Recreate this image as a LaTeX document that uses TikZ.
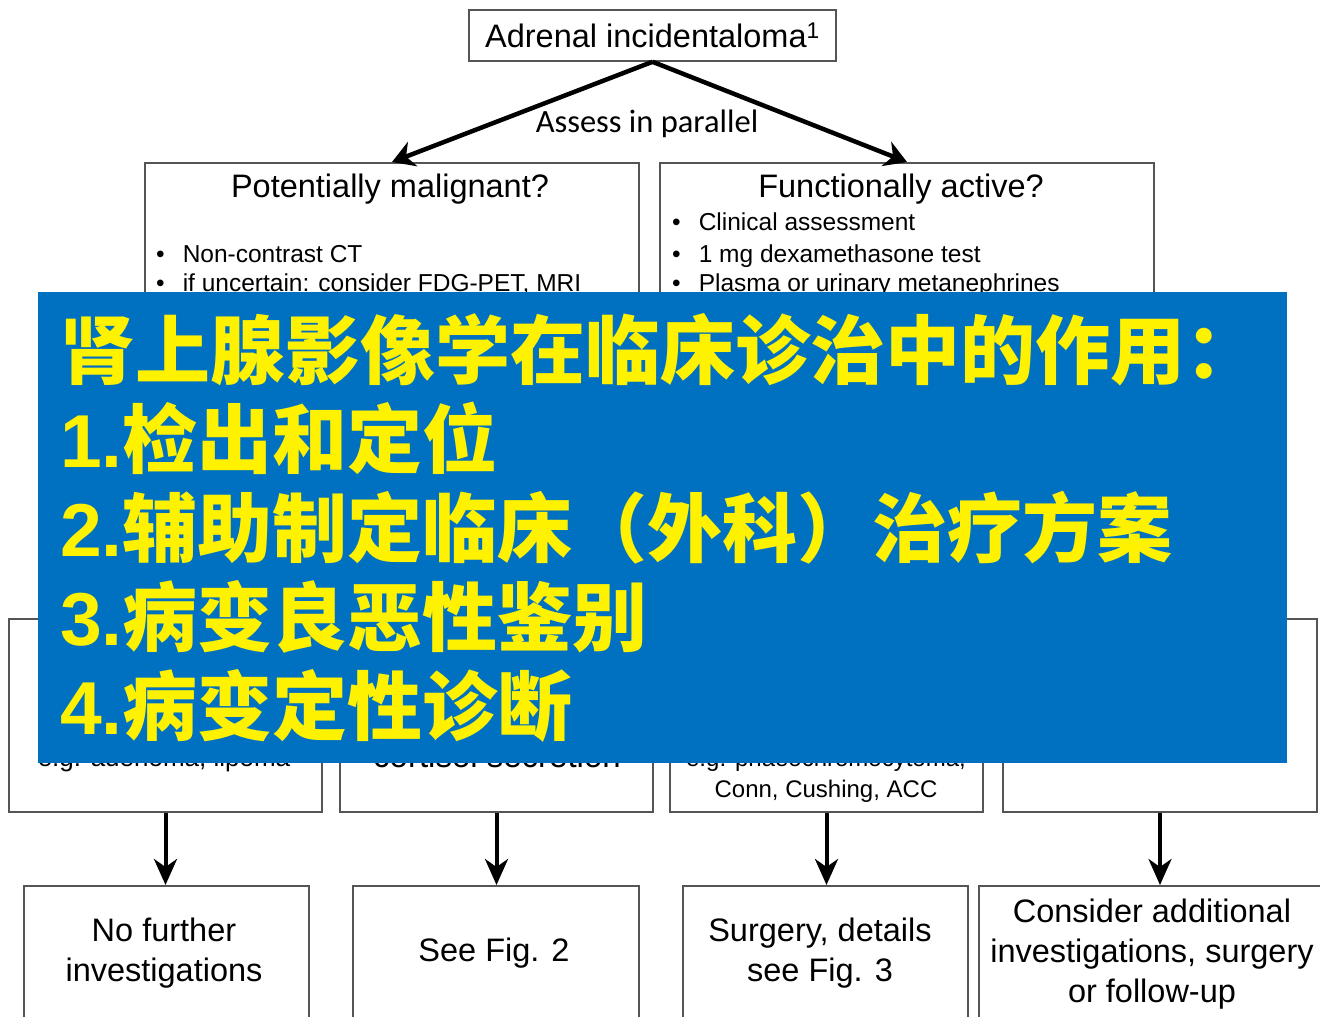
\documentclass[tikz,border=0pt]{standalone}
\usepackage{fontspec}
\setmainfont{Liberation Sans}
\newfontfamily\calibri{Carlito}
\newfontfamily\cjk{Noto Sans CJK SC}
\usetikzlibrary{arrows.meta}
\definecolor{slideblue}{RGB}{0,112,192}
\definecolor{boxgray}{RGB}{85,85,85}
\newcommand\stepno[1]{{\rmfamily\bfseries #1}}
\begin{document}
\begin{tikzpicture}[x=1pt,y=-1pt,
	box/.style={draw=boxgray,line width=1.6pt,fill=white,inner sep=0pt},
	fork/.style={line width=4.5pt,-{Stealth[length=22pt,width=26pt,inset=7pt]}},
	down/.style={line width=4pt,-{Stealth[length=26pt,width=23pt,inset=8pt]}},
	item/.style={anchor=base west,inner sep=0pt,font=\fontsize{24.5}{28}\selectfont},
	note/.style={anchor=base,inner sep=0pt,font=\fontsize{#1}{#1}\selectfont},
	result/.style={align=center,inner sep=0pt,font=\fontsize{32.5}{40}\selectfont},
	point/.style={anchor=base west,inner sep=0pt,text=yellow,font=\cjk\bfseries\fontsize{75}{80}\selectfont}]
\clip (0,0) rectangle (1320,1017);
\fill[white] (0,0) rectangle (1320,1017);

\node[box,minimum width=367pt,minimum height=51pt,font=\fontsize{32.5}{36}\selectfont] (incid) at (652.5,35.5) {Adrenal incidentaloma\textsuperscript{1}};
\node[box,minimum width=494pt,minimum height=440pt,anchor=north] (malig) at (392,162) {};
\node[box,minimum width=494pt,minimum height=440pt,anchor=north] (funct) at (907,162) {};
\draw[fork] (incid.south) -- (malig.north);
\draw[fork] (incid.south) -- (funct.north);
\node[font=\calibri\fontsize{32.5}{36}\selectfont] (parallel) at (647,124) {Assess in parallel};

\node[font=\fontsize{32.5}{36}\selectfont] (maligq) at (390,189) {Potentially malignant?};
\node[item] (ct) at (156,262) {\textbullet\hspace{18pt}Non-contrast  CT};
\node[item] (pet) at (156,291) {\textbullet\hspace{18pt}if uncertain: consider FDG-PET, MRI};
\node[font=\fontsize{32.5}{36}\selectfont] (functq) at (901,189) {Functionally active?};
\node[item] (clin) at (672,230) {\textbullet\hspace{18pt}Clinical assessment};
\node[item] (dex) at (672,262) {\textbullet\hspace{18pt}1 mg dexamethasone  test};
\node[item] (meta) at (672,291) {\textbullet\hspace{18pt}Plasma  or urinary metanephrines};

\node[box,minimum width=313pt,minimum height=193pt] (benign) at (165.5,715.5) {};
\node[box,minimum width=313pt,minimum height=193pt] (cortisol) at (496.5,715.5) {};
\node[box,minimum width=313pt,minimum height=193pt] (hormone) at (826.5,715.5) {};
\node[box,minimum width=314pt,minimum height=193pt] (indeterm) at (1160,715.5) {};
\node[note=26] (benigntxt) at (164,766) {e.g. adenoma, lipoma};
\node[note=33] (cortisoltxt) at (497,767) {cortisol secretion};
\node[note=24] (phaeo) at (826,766) {e.g. phaeochromocytoma,};
\node[note=24] (conn) at (826,797) {Conn, Cushing, ACC};

\node[box,minimum width=285pt,minimum height=170pt,anchor=north] (nofurther) at (166.5,885) {};
\node[box,minimum width=286pt,minimum height=170pt,anchor=north] (seefig) at (496,885) {};
\node[box,minimum width=285pt,minimum height=170pt,anchor=north] (surgery) at (825.5,885) {};
\node[box,minimum width=351pt,minimum height=170pt,anchor=north] (consider) at (1154.5,885) {};
\draw[down] (benign.south) -- (benign.south |- nofurther.north);
\draw[down] (cortisol.south) -- (cortisol.south |- seefig.north);
\draw[down] (hormone.south) -- (hormone.south |- surgery.north);
\draw[down] (indeterm.south) -- (indeterm.south |- consider.north);
\node[result] (nofurthertxt) at (164,953) {No further\\investigations};
\node[result] (seefigtxt) at (494,953) {See Fig. 2};
\node[result] (surgerytxt) at (820,953) {Surgery, details\\see Fig. 3};
\node[result] (considertxt) at (1152,954) {Consider additional\\investigations, surgery\\or follow-up};

\fill[slideblue] (38,292) rectangle (1287,763);
\node[point] (aim) at (60,378) {肾上腺影像学在临床诊治中的作用：};
\node[point] (detect) at (60,467) {\stepno{1.}检出和定位};
\node[point] (plan) at (60,556) {\stepno{2.}辅助制定临床（外科）治疗方案};
\node[point] (benmal) at (60,645) {\stepno{3.}病变良恶性鉴别};
\node[point] (diagn) at (60,734) {\stepno{4.}病变定性诊断};
\end{tikzpicture}
\end{document}
